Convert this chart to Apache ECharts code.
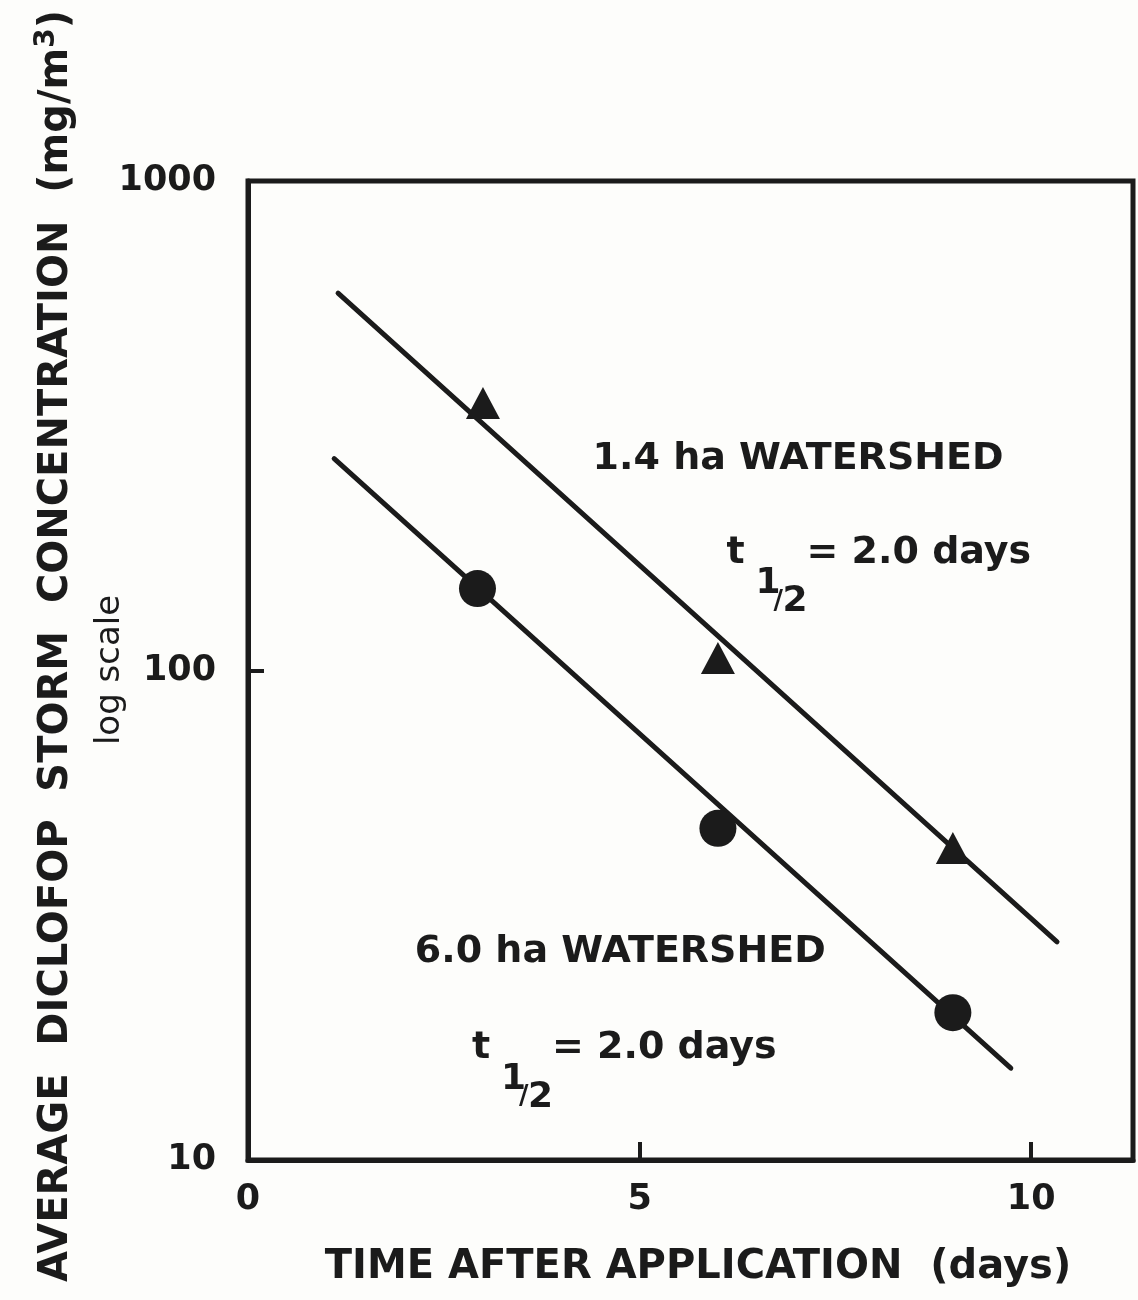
<!DOCTYPE html>
<html>
<head>
<meta charset="utf-8">
<script src="https://cdn.jsdelivr.net/npm/echarts@6/dist/echarts.min.js"></script>
<style>
  html, body { margin: 0; padding: 0; background: #fdfdfb; }
  #chart { width: 1138px; height: 1300px; }
</style>
</head>
<body>
<div id="chart"></div>
<script>
// Storm runoff concentrations of diclofop (mg/m3), by days after application
const smallShedDays = [3, 6, 9];
const smallShedConc = [352, 106, 43.4];      // 1.4 ha watershed
const largeShedDays = [2.93, 6, 9];
const largeShedConc = [147, 47.6, 20.0];     // 6.0 ha watershed

// Fitted first-order decay lines (end points)
const smallFitDays = [1.15, 10.33];
const smallFitConc = [590, 27.9];
const largeFitDays = [1.10, 9.74];
const largeFitConc = [271, 15.4];

const xTickLabels = [0, 5, 10];
const yTickLabels = [10, 100, 1000];

// Text annotations anchored in data space: [days, concentration]
const smallShedLabelAt = [4.40, 270];
const smallShedHalfLifeAt = [6.11, 174];
const largeShedLabelAt = [2.13, 26.6];
const largeShedHalfLifeAt = [2.86, 16.9];
const halfLifeText = '= 2.0 days';

const INK = '#1b1b1b';
const FONT = '"DejaVu Sans", "Liberation Sans", sans-serif';

const pairs = (xs, ys) => xs.map((x, i) => [x, ys[i]]);

const chart = echarts.init(document.getElementById('chart'), null, { renderer: 'canvas' });

chart.setOption({
  backgroundColor: '#fdfdfb',
  animation: false,
  grid: {
    left: 248, top: 181, right: 5, bottom: 140,
    show: true, borderColor: INK, borderWidth: 5, backgroundColor: 'transparent'
  },
  xAxis: {
    type: 'value', min: 0, max: 11.3, interval: 5,
    axisLine: { show: true, lineStyle: { color: INK, width: 5 } },
    axisTick: { show: true, inside: true, length: 18, lineStyle: { color: INK, width: 4 } },
    axisLabel: {
      color: INK, fontFamily: FONT, fontWeight: 'bold', fontSize: 35, margin: 22,
      showMaxLabel: false,
      formatter: v => (xTickLabels.indexOf(v) >= 0 ? String(v) : '')
    },
    splitLine: { show: false }
  },
  yAxis: {
    type: 'log', logBase: 10, min: 10, max: 1000,
    axisLine: { show: true, lineStyle: { color: INK, width: 5 } },
    axisTick: { show: true, inside: true, length: 16, lineStyle: { color: INK, width: 4 } },
    minorTick: { show: false },
    axisLabel: {
      color: INK, fontFamily: FONT, fontWeight: 'bold', fontSize: 35, margin: 32,
      formatter: v => (yTickLabels.indexOf(Math.round(v)) >= 0 ? String(Math.round(v)) : '')
    },
    splitLine: { show: false }
  },
  series: [
    {
      type: 'line', data: pairs(smallFitDays, smallFitConc), symbol: 'none',
      lineStyle: { color: INK, width: 5, cap: 'round' }, z: 2
    },
    {
      type: 'line', data: pairs(largeFitDays, largeFitConc), symbol: 'none',
      lineStyle: { color: INK, width: 5, cap: 'round' }, z: 2
    },
    {
      type: 'scatter', data: pairs(smallShedDays, smallShedConc),
      symbol: 'triangle', symbolSize: [34, 32],
      itemStyle: { color: INK, opacity: 1 }, z: 3
    },
    {
      type: 'scatter', data: pairs(largeShedDays, largeShedConc),
      symbol: 'circle', symbolSize: 37,
      itemStyle: { color: INK, opacity: 1 }, z: 3
    }
  ]
});

function textEl(x, y, text, size, weight, extra) {
  return Object.assign({
    type: 'text', x: x, y: y, z: 10,
    style: {
      text: text, fill: INK, fontFamily: FONT, fontSize: size,
      fontWeight: weight, align: 'left', verticalAlign: 'middle'
    }
  }, extra || {});
}

// "t 1/2 = 2.0 days" with the stacked, lowered fraction
function halfLifeGroup(anchor) {
  const p = chart.convertToPixel({ gridIndex: 0 }, anchor);
  return {
    type: 'group', x: p[0], y: p[1],
    children: [
      textEl(0, 0, 't', 38, 'bold'),
      textEl(29, 31, '1', 36, 'bold'),
      textEl(47, 49, '/', 26, 'bold'),
      textEl(56, 49, '2', 36, 'bold'),
      textEl(80, 0, halfLifeText, 38, 'bold')
    ]
  };
}

function labelAt(anchor, text) {
  const p = chart.convertToPixel({ gridIndex: 0 }, anchor);
  return textEl(p[0], p[1], text, 38, 'bold');
}

chart.setOption({
  graphic: [
    labelAt(smallShedLabelAt, '1.4 ha WATERSHED'),
    halfLifeGroup(smallShedHalfLifeAt),
    labelAt(largeShedLabelAt, '6.0 ha WATERSHED'),
    halfLifeGroup(largeShedHalfLifeAt),
    // x-axis title
    {
      type: 'text', x: 698, y: 1268, z: 10,
      style: {
        text: 'TIME AFTER APPLICATION  (days)', fill: INK, fontFamily: FONT,
        fontSize: 40, fontWeight: 'bold', align: 'center', verticalAlign: 'middle'
      }
    },
    // y-axis title
    {
      type: 'text', x: 57, y: 646, rotation: Math.PI / 2, z: 10,
      style: {
        text: '{m|AVERAGE  DICLOFOP  STORM  CONCENTRATION  (mg/m}{s|3}{m|)}',
        fill: INK, align: 'center', verticalAlign: 'middle',
        rich: {
          m: { fontFamily: FONT, fontSize: 40, fontWeight: 'bold', fill: INK, lineHeight: 48 },
          s: { fontFamily: FONT, fontSize: 28, fontWeight: 'bold', fill: INK, verticalAlign: 'top', lineHeight: 48 }
        }
      }
    },
    {
      type: 'text', x: 110, y: 670, rotation: Math.PI / 2, z: 10,
      style: {
        text: 'log scale', fill: INK, fontFamily: FONT, fontSize: 34,
        align: 'center', verticalAlign: 'middle'
      }
    }
  ]
});
</script>
</body>
</html>
